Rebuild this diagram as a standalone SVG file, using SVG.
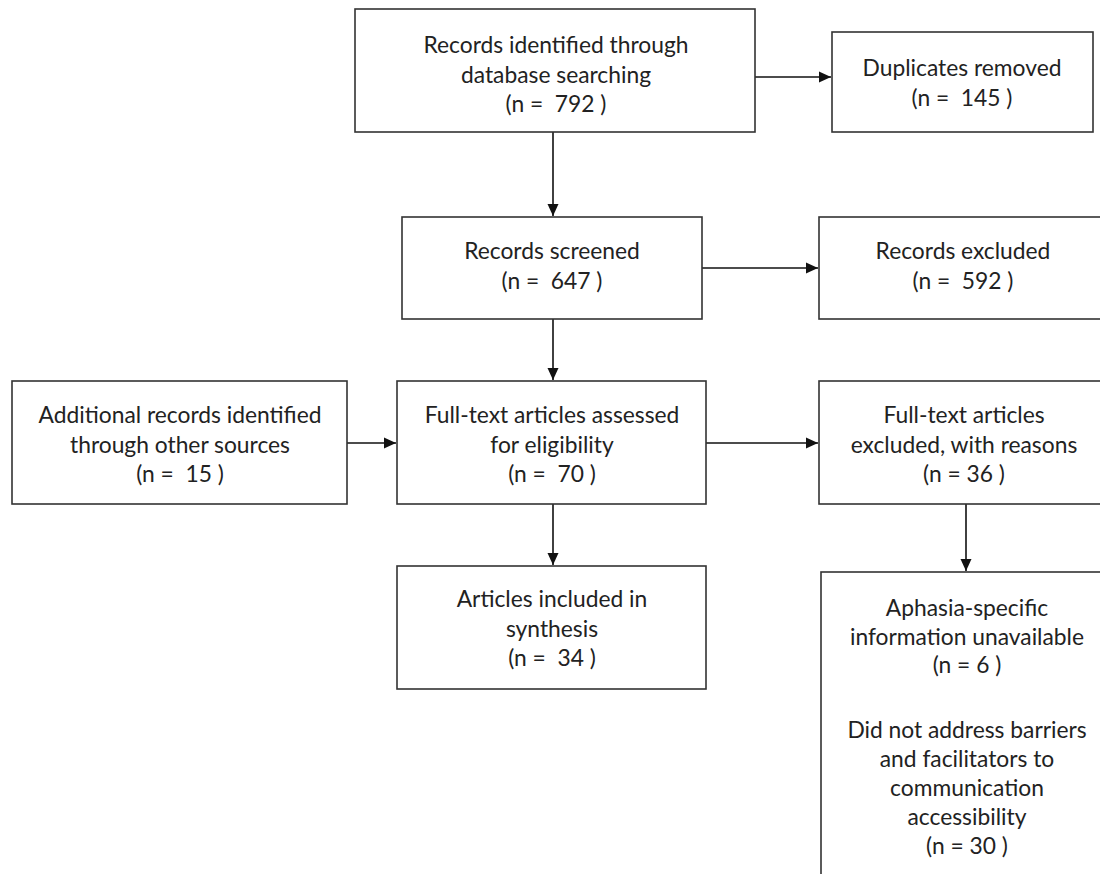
<svg xmlns="http://www.w3.org/2000/svg" width="1100" height="874" viewBox="0 0 1100 874">
<style>
.box{fill:#fff;stroke:#333;stroke-width:1.6}
.t{font-family:Lato,"Liberation Sans",sans-serif;font-size:22.8px;fill:#222;text-anchor:middle;white-space:pre}
.c{stroke:#111;stroke-width:1.6;fill:none;marker-end:url(#ah)}
</style>
<defs>
<marker id="ah" viewBox="0 0 12 12" refX="12" refY="6" markerWidth="12" markerHeight="12" markerUnits="userSpaceOnUse" orient="auto">
<path d="M0,0.5 L12,6 L0,11.5 Z" fill="#111"/>
</marker>
</defs>
<rect width="1100" height="874" fill="#fff"/>
<g id="connectors">
<line class="c" x1="755" y1="77" x2="831" y2="77"/>
<line class="c" x1="553" y1="132" x2="553" y2="216"/>
<line class="c" x1="702" y1="268" x2="818" y2="268"/>
<line class="c" x1="553" y1="319" x2="553" y2="380"/>
<line class="c" x1="347" y1="443" x2="396" y2="443"/>
<line class="c" x1="706" y1="443" x2="818" y2="443"/>
<line class="c" x1="553" y1="504" x2="553" y2="565"/>
<line class="c" x1="966" y1="504" x2="966" y2="571"/>
</g>
<g id="n1"><rect class="box" x="355" y="9" width="400" height="123"/>
<text class="t" x="556" y="53" xml:space="preserve">Records identified through</text>
<text class="t" x="556" y="83" xml:space="preserve">database searching</text>
<text class="t" x="556" y="112" xml:space="preserve">(n =  792 )</text></g>
<g id="n2"><rect class="box" x="832" y="32" width="261" height="100"/>
<text class="t" x="962" y="76" xml:space="preserve">Duplicates removed</text>
<text class="t" x="962" y="106" xml:space="preserve">(n =  145 )</text></g>
<g id="n3"><rect class="box" x="402" y="217" width="300" height="102"/>
<text class="t" x="552" y="259" xml:space="preserve">Records screened</text>
<text class="t" x="552" y="289" xml:space="preserve">(n =  647 )</text></g>
<g id="n4"><rect class="box" x="819" y="217" width="300" height="102"/>
<text class="t" x="963" y="259" xml:space="preserve">Records excluded</text>
<text class="t" x="963" y="289" xml:space="preserve">(n =  592 )</text></g>
<g id="n5"><rect class="box" x="12" y="381" width="335" height="123"/>
<text class="t" x="180" y="423" xml:space="preserve">Additional records identified</text>
<text class="t" x="180" y="453" xml:space="preserve">through other sources</text>
<text class="t" x="180" y="482" xml:space="preserve">(n =  15 )</text></g>
<g id="n6"><rect class="box" x="397" y="381" width="309" height="123"/>
<text class="t" x="552" y="423" xml:space="preserve">Full-text articles assessed</text>
<text class="t" x="552" y="453" xml:space="preserve">for eligibility</text>
<text class="t" x="552" y="482" xml:space="preserve">(n =  70 )</text></g>
<g id="n7"><rect class="box" x="819" y="381" width="300" height="123"/>
<text class="t" x="964" y="423" xml:space="preserve">Full-text articles</text>
<text class="t" x="964" y="453" xml:space="preserve">excluded, with reasons</text>
<text class="t" x="964" y="482" xml:space="preserve">(n = 36 )</text></g>
<g id="n8"><rect class="box" x="397" y="566" width="309" height="123"/>
<text class="t" x="552" y="607" xml:space="preserve">Articles included in</text>
<text class="t" x="552" y="637" xml:space="preserve">synthesis</text>
<text class="t" x="552" y="666" xml:space="preserve">(n =  34 )</text></g>
<g id="n9"><rect class="box" x="821" y="572" width="300" height="320"/>
<text class="t" x="967" y="616">Aphasia-specific</text>
<text class="t" x="967" y="645">information unavailable</text>
<text class="t" x="967" y="673">(n = 6 )</text>
<text class="t" x="967" y="738">Did not address barriers</text>
<text class="t" x="967" y="767">and facilitators to</text>
<text class="t" x="967" y="796">communication</text>
<text class="t" x="967" y="825">accessibility</text>
<text class="t" x="967" y="854">(n = 30 )</text></g>
</svg>
